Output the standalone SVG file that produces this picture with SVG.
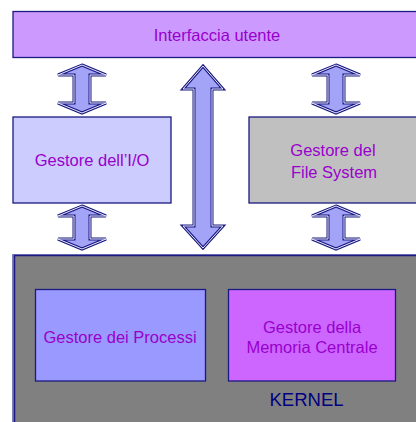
<svg xmlns="http://www.w3.org/2000/svg" width="416" height="422" viewBox="0 0 416 422">
<style>
.box{stroke:#1a1a80;stroke-width:1.3}
.lbl{font-family:"Liberation Sans",Arial,sans-serif;font-size:16.5px;fill:#9900cc;text-anchor:middle}
.arr-o{fill:#a3a3f7;stroke:#1a1a80;stroke-width:3;stroke-linejoin:miter}
.arr-i{fill:none;stroke:#e8e8ff;stroke-width:1;stroke-linejoin:miter}
</style>
<defs>
<path id="sa" d="M0,0 L24,10 L8,10 L8,38 L24,38 L0,48 L-24,38 L-8,38 L-8,10 L-24,10 Z"/>
<path id="sb" d="M0,0 L24,10 L8,10 L8,33 L24,33 L0,43 L-24,33 L-8,33 L-8,10 L-24,10 Z"/>
</defs>
<rect width="416" height="422" fill="#ffffff"/>
<g id="connectors">
<g transform="translate(82,65)"><use href="#sa" class="arr-o"/><use href="#sa" class="arr-i"/></g>
<g transform="translate(336,65)"><use href="#sa" class="arr-o"/><use href="#sa" class="arr-i"/></g>
<g transform="translate(82,206)"><use href="#sb" class="arr-o"/><use href="#sb" class="arr-i"/></g>
<g transform="translate(336,206)"><use href="#sb" class="arr-o"/><use href="#sb" class="arr-i"/></g>
<path class="arr-o" d="M203,66 L223,89 L212,89 L212,226 L223,226 L203,248 L183,226 L194,226 L194,89 L183,89 Z"/>
<path class="arr-i" d="M203,66 L223,89 L212,89 L212,226 L223,226 L203,248 L183,226 L194,226 L194,89 L183,89 Z"/>
</g>
<g id="interfaccia">
<rect class="box" x="13" y="11.5" width="410" height="46" fill="#cc99ff"/>
<text class="lbl" x="217" y="41">Interfaccia utente</text>
</g>
<g id="io">
<rect class="box" x="13" y="117" width="158" height="86" fill="#ccccff"/>
<text class="lbl" x="92" y="166">Gestore dell’I/O</text>
</g>
<g id="filesystem">
<rect class="box" x="249" y="117" width="175" height="86" fill="#c0c0c0"/>
<text class="lbl" x="333" y="156">Gestore del</text>
<text class="lbl" x="334" y="178">File System</text>
</g>
<g id="kernel">
<rect x="12" y="254" width="412" height="180" fill="#8080c0"/>
<rect x="14.5" y="255.5" width="410" height="180" fill="#808080" stroke="#1a1a80" stroke-width="1.5"/>
<text x="306.5" y="406" font-family="'Liberation Sans',Arial,sans-serif" font-size="18.5" fill="#000080" text-anchor="middle">KERNEL</text>
</g>
<g id="processi">
<rect class="box" x="35.5" y="289.5" width="170" height="91.5" fill="#9999ff"/>
<text class="lbl" x="120" y="343">Gestore dei Processi</text>
</g>
<g id="memoria">
<rect class="box" x="228.5" y="289.5" width="167" height="91.5" fill="#cc66ff"/>
<text class="lbl" x="312" y="333">Gestore della</text>
<text class="lbl" x="312" y="353">Memoria Centrale</text>
</g>
</svg>
